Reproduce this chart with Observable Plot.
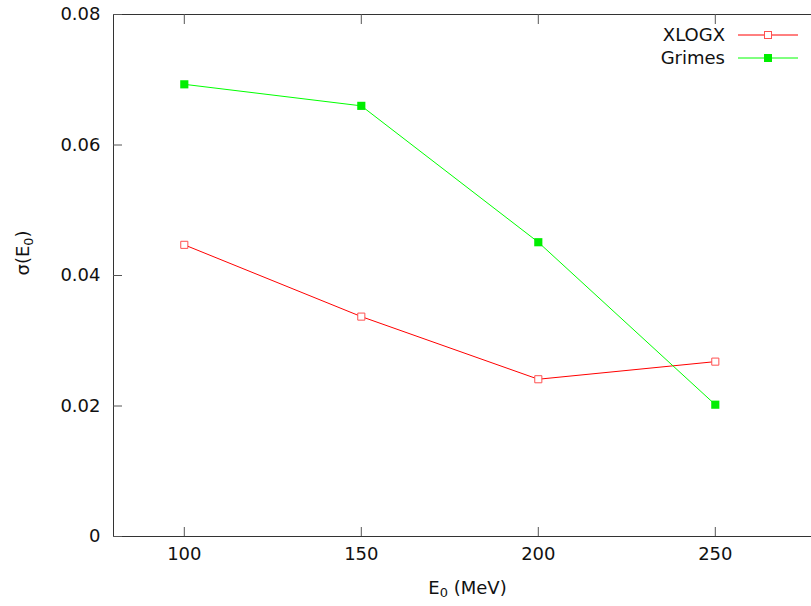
<!DOCTYPE html>
<html><head><meta charset="utf-8">
<script src="https://cdn.jsdelivr.net/npm/d3@7"></script>
<script src="https://cdn.jsdelivr.net/npm/@observablehq/plot@0.6"></script>
<style>body{margin:0;background:#fff;overflow:hidden} svg{font-family:"DejaVu Sans",sans-serif}</style>
</head><body><div id="chart"></div>
<script>
const energies = [100, 150, 200, 250];
const xlogx = [0.0447, 0.0337, 0.0241, 0.0268];
const grimes = [0.0693, 0.0660, 0.0451, 0.0202];
const xTicks = [100, 150, 200, 250];
const yTicks = [0, 0.02, 0.04, 0.06, 0.08];
const yTickLabels = ["0", "0.02", "0.04", "0.06", "0.08"];
const seriesNames = ["XLOGX", "Grimes"];
const seriesColors = ["#ff0000", "#00ee00"];
const xLabel = "E₀ (MeV)";
const yLabel = "σ(E₀)";

const rows = [];
energies.forEach((e, i) => rows.push({series: seriesNames[0], x: e, y: xlogx[i]}));
energies.forEach((e, i) => rows.push({series: seriesNames[1], x: e, y: grimes[i]}));
const A = rows.filter(d => d.series === seriesNames[0]);
const B = rows.filter(d => d.series === seriesNames[1]);

const axisColor = "#333";
const fs = 18;

const plot = Plot.plot({
  width: 811, height: 606,
  marginLeft: 113, marginRight: -10, marginTop: 14, marginBottom: 70,
  style: {fontFamily: "DejaVu Sans", fontSize: fs + "px", background: "#fff"},
  x: {domain: [80, 280], axis: null},
  y: {domain: [0, 0.08], axis: null},
  marks: [
    Plot.ruleX([80], {stroke: axisColor}),
    Plot.ruleY([0], {stroke: axisColor}),
    Plot.ruleY([0.08], {stroke: axisColor}),
    Plot.ruleX(xTicks, {x: d => d, insetTop: 513, stroke: "#555"}),
    Plot.ruleX(xTicks, {x: d => d, insetBottom: 512, stroke: "#555"}),
    Plot.ruleY(yTicks, {y: d => d, insetRight: 699, stroke: "#555"}),
    Plot.text(xTicks, {x: d => d, frameAnchor: "bottom", dy: 23, text: d => String(d), fill: "#111", fontSize: fs}),
    Plot.text(yTicks, {y: d => d, frameAnchor: "left", dx: -13, textAnchor: "end", text: (d, i) => yTickLabels[i], fill: "#111", fontSize: fs}),
    Plot.text([xLabel], {frameAnchor: "bottom", dy: 57, text: d => d, fill: "#111", fontSize: fs}),
    Plot.text([yLabel], {frameAnchor: "left", dx: -90, rotate: -90, text: d => d, fill: "#111", fontSize: fs}),
    Plot.line(A, {x: "x", y: "y", stroke: seriesColors[0], strokeWidth: 1}),
    Plot.line(B, {x: "x", y: "y", stroke: "#00ff00", strokeWidth: 1}),
    Plot.dot(A, {x: "x", y: "y", symbol: "square", r: 4, stroke: "#ff5050", fill: "#fff", strokeWidth: 1}),
    Plot.dot(B, {x: "x", y: "y", symbol: "square", r: 4.6, fill: seriesColors[1], stroke: "none"})
  ]
});
document.getElementById("chart").appendChild(plot);

// subscripts
const svg = d3.select(plot);
svg.selectAll("text").each(function() {
  const t = d3.select(this);
  const str = t.text();
  if (str.includes("₀")) {
    const parts = str.split("₀");
    t.text(null);
    parts.forEach((p, i) => {
      const s = t.append("tspan").text(p);
      if (i > 0) s.attr("dy", "-0.216em");
      if (i < parts.length - 1) t.append("tspan").attr("font-size", "0.72em").attr("dy", "0.3em").text("0");
    });
  }
});

// legend
const g = svg.append("g");
seriesNames.forEach((name, i) => {
  const yy = 35 + i * 23;
  g.append("text").attr("x", 725).attr("y", yy).attr("dy", "0.35em").attr("text-anchor", "end")
    .attr("font-size", fs).attr("fill", "#111").text(name);
  g.append("line").attr("x1", 738).attr("x2", 798).attr("y1", yy).attr("y2", yy)
    .attr("stroke", i === 0 ? seriesColors[0] : "#00ff00");
  if (i === 0) g.append("rect").attr("x", 764.5).attr("y", yy - 3.5).attr("width", 7).attr("height", 7)
    .attr("fill", "#fff").attr("stroke", "#ff5050");
  else g.append("rect").attr("x", 764).attr("y", yy - 4).attr("width", 8).attr("height", 8)
    .attr("fill", seriesColors[1]);
});
</script>
</body></html>
